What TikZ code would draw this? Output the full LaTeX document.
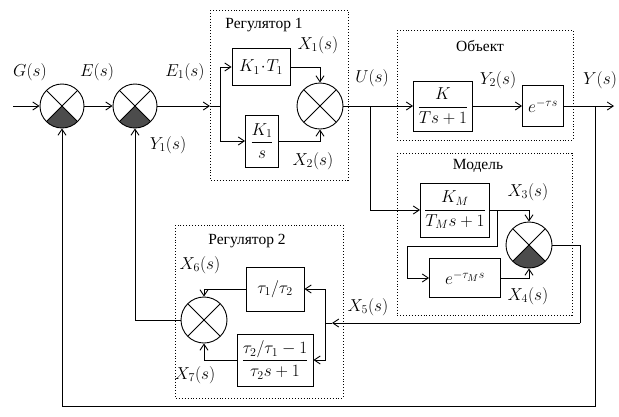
\documentclass[tikz,border=0pt]{standalone}
\usepackage{amsmath}
\usepackage{fontspec}
\setmainfont{Liberation Serif}
\usetikzlibrary{calc, arrows.meta}

\tikzset{
    blk/.style={draw, inner sep=2pt, font=\fontsize{17.28}{20}\selectfont},
    sumn/.style={draw, circle, minimum size=46pt, inner sep=0pt,
        path picture={\draw (path picture bounding box.north west) -- (path picture bounding box.south east)
                            (path picture bounding box.north east) -- (path picture bounding box.south west);}},
    sumsh/.style={draw, circle, minimum size=46pt, inner sep=0pt,
        path picture={\fill[black!70] (path picture bounding box.center) -- ++(-45:40pt) -- ++(180:56.57pt) -- cycle;
                      \draw (path picture bounding box.north west) -- (path picture bounding box.south east)
                            (path picture bounding box.north east) -- (path picture bounding box.south west);}},
    grp/.style={draw, dotted, line width=0.9pt},
    ttl/.style={inner sep=1pt, font=\fontsize{15.5}{17}\selectfont},
    lbl/.style={inner sep=1pt, font=\fontsize{17.28}{20}\selectfont}
}

\begin{document}
\begin{tikzpicture}[x=1pt, y=-1pt, line width=0.9pt,
                >={Straight Barb[length=6pt, width=8pt]}]
                \useasboundingbox (0,0) rectangle (619,416);
                \draw[grp] (210,10) rectangle (348,180);
                \draw[grp] (397,30) rectangle (573,140);
                \draw[grp] (397,153) rectangle (572,315);
                \draw[grp] (175,225) rectangle (343,398);
                \node[ttl] (t1) at (264,25) {Регулятор 1};
                \node[ttl] (t2) at (480,46) {Объект};
                \node[ttl] (t3) at (478,166) {Модель};
                \node[ttl] (t4) at (247,241) {Регулятор 2};
                \node[sumsh, minimum size=44pt] (sA) at (62,106) {};
                \node[sumsh, minimum size=44pt] (sB) at (135,106) {};
                \node[sumn] (sC) at (320,106) {};
                \node[sumsh] (sD) at (529,245) {};
                \node[sumn] (sE) at (204,320) {};
                \node[blk, minimum width=58pt, minimum height=37pt] (kt) at (261,67) {$K_1\!\cdot\! T_1$};
                \node[blk, minimum width=33pt, minimum height=52pt] (ks) at (262,141) {$\dfrac{K_1}{s}$};
                \node[blk, minimum width=59pt, minimum height=50pt] (ko) at (443,106) {$\dfrac{K}{Ts+1}$};
                \node[blk, minimum width=41pt, minimum height=41pt] (dl) at (543,106) {$e^{-\tau s}$};
                \node[blk, minimum width=69pt, minimum height=54pt] (km) at (455,210) {$\dfrac{K_M}{T_M s+1}$};
                \node[blk, minimum width=71pt, minimum height=39pt] (dm) at (465,278) {$e^{-\tau_M s}$};
                \node[blk, minimum width=58pt, minimum height=44pt] (t12) at (275,289) {$\tau_1/\tau_2$};
                \node[blk, minimum width=76pt, minimum height=52pt, inner sep=1pt] (tf) at (275,360) {$\dfrac{\tau_2/\tau_1-1}{\tau_2 s+1}$};
                \coordinate (in) at (13,106);
                \coordinate (r1in) at (210,106);
                \coordinate (spl) at (220,106);
                \coordinate (u) at (370,106);
                \coordinate (ysp) at (595,106);
                \coordinate (yout) at (614,106);
                \coordinate (b1) at (497,210);
                \coordinate (b2) at (407,246);
                \coordinate (x5r) at (580,323);
                \coordinate (x5a) at (332,323);
                \coordinate (x5) at (325,323);
                \coordinate (fb) at (595,406);
                \draw[->] (in) -- (sA);
                \draw[->] (sA) -- (sB);
                \draw[->] (sB) -- (r1in);
                \draw (r1in) -- (spl);
                \draw[->] (spl) |- (kt);
                \draw[->] (spl) |- (ks);
                \draw[->] (kt) -| (sC);
                \draw[->] (ks) -| (sC);
                \draw (sC) -- (u);
                \draw[->] (u) -- (ko);
                \draw[->] (ko) -- (dl);
                \draw (dl) -- (ysp);
                \draw[->] (ysp) -- (yout);
                \draw[->] (u) |- (km);
                \draw[->] (km) -| (sD);
                \draw[->] (b1) |- (b2) |- (dm);
                \draw[->] (dm) -| (sD);
                \draw (sD) -| (x5r);
                \draw[->] (x5r) -- (x5a);
                \draw (x5a) -- (x5);
                \draw[->] (x5) |- (t12);
                \draw[->] (x5) |- (tf);
                \draw[->] (t12) -| (sE);
                \draw[->] (tf) -| (sE);
                \draw[->] (sE) -| (sB);
                \draw[->] (ysp) -- (fb) -| (sA);
                \node[lbl] (lG) at (30,72) {$G(s)$};
                \node[lbl] (lE) at (97,72) {$E(s)$};
                \node[lbl] (lE1) at (185,72) {$E_1(s)$};
                \node[lbl] (lY1) at (168,145) {$Y_1(s)$};
                \node[lbl] (lX1) at (318,45) {$X_1(s)$};
                \node[lbl] (lX2) at (313,161) {$X_2(s)$};
                \node[lbl] (lU) at (372,78) {$U(s)$};
                \node[lbl] (lY2) at (498,80) {$Y_2(s)$};
                \node[lbl] (lY) at (600,80) {$Y(s)$};
                \node[lbl] (lX3) at (528,192) {$X_3(s)$};
                \node[lbl] (lX4) at (528,296) {$X_4(s)$};
                \node[lbl] (lX5) at (368,307) {$X_5(s)$};
                \node[lbl] (lX6) at (200,265) {$X_6(s)$};
                \node[lbl] (lX7) at (195,375) {$X_7(s)$};
            \end{tikzpicture}
\end{document}
